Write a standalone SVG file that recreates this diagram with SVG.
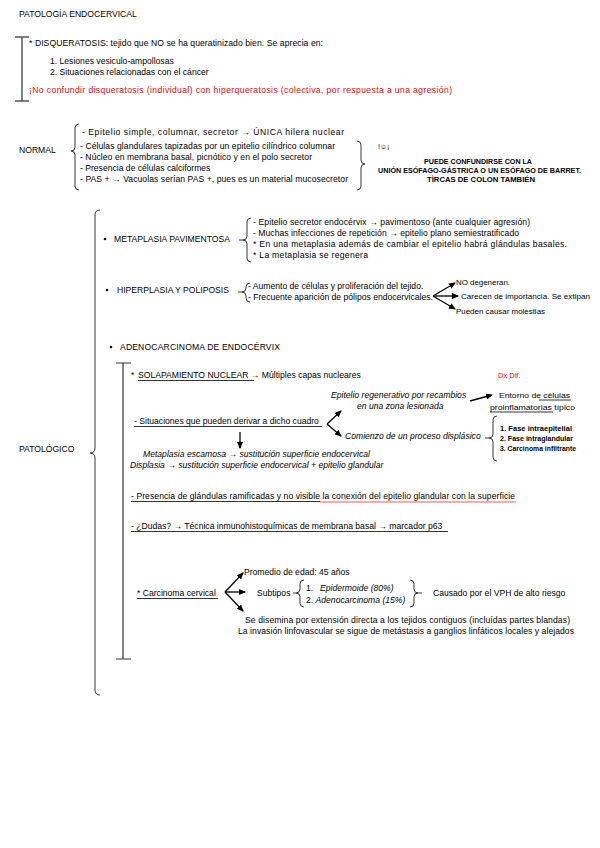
<svg xmlns="http://www.w3.org/2000/svg" width="600" height="848" viewBox="0 0 600 848">
<style>
text{font-family:"Liberation Sans",Arial,sans-serif;font-size:8.6px;fill:#000}
.it{font-style:italic}
.red{fill:#f00}
.sm{font-size:6.4px;font-weight:bold}
.cmp{font-size:8px}
.br{fill:none;stroke:#222;stroke-width:0.9}
.bk{fill:none;stroke:#555;stroke-width:1.5}
.ul{stroke:#000;stroke-width:0.8}
.ar{stroke:#000;stroke-width:1.3;fill:none;marker-end:url(#ah)}
</style>
<defs>
<marker id="ah" markerUnits="userSpaceOnUse" markerWidth="7" markerHeight="6" refX="6" refY="3" orient="auto">
<path d="M0,0 L7,3 L0,6 z" fill="#000"/>
</marker>
</defs>
<rect width="600" height="848" fill="#fff"/>

<g id="title"><text x="19" y="17">PATOLOGÍA ENDOCERVICAL</text></g>

<g id="disqueratosis">
<path class="bk" d="M15,37 H29 M22,37 V101 M15,101 H29"/>
<text x="29" y="46" textLength="294" lengthAdjust="spacing">* DISQUERATOSIS: tejido que NO se ha queratinizado bien. Se aprecia en:</text>
<text x="50" y="64">1. Lesiones vesiculo-ampollosas</text>
<text x="50" y="75">2. Situaciones relacionadas con el cáncer</text>
<text class="red" x="29" y="93" textLength="423" lengthAdjust="spacing">¡No confundir disqueratosis (individual) con hiperqueratosis (colectiva, por respuesta a una agresión)</text>
</g>

<g id="normal">
<text x="19" y="153">NORMAL</text>
<path class="br" d="M79,124 Q75,124 75,128 L75,147 Q75,151 71,151 Q75,151 75,155 L75,186 Q75,190 79,190"/>
<text x="82" y="135" textLength="262" lengthAdjust="spacing">-  Epitelio simple, columnar, secretor → ÚNICA hilera nuclear</text>
<text x="80" y="149" textLength="255" lengthAdjust="spacing">- Células glandulares tapizadas por un epitelio cilíndrico columnar</text>
<text x="80" y="160" textLength="232" lengthAdjust="spacing">- Núcleo en membrana basal, picnótico y en el polo secretor</text>
<text x="80" y="171">- Presencia de células calciformes</text>
<text x="80" y="182" textLength="268" lengthAdjust="spacing">- PAS + → Vacuolas serían PAS +, pues es un material mucosecretor</text>
<path class="br" d="M357,141 Q361,141 361,145 L361,160 Q361,164 365,164 Q361,164 361,168 L361,186 Q361,190 357,190"/>
</g>

<g id="nota-barrett">
<text x="378" y="149" style="font-size:7px">!☺¡</text>
<text class="sm" x="424" y="164" textLength="108" lengthAdjust="spacingAndGlyphs">PUEDE CONFUNDIRSE CON LA</text>
<text class="sm" x="378" y="173" textLength="203" lengthAdjust="spacingAndGlyphs">UNIÓN ESÓFAGO-GÁSTRICA O UN ESÓFAGO DE BARRET.</text>
<text class="sm" x="427" y="182" textLength="108" lengthAdjust="spacingAndGlyphs">TÌRCAS DE COLON TAMBIÉN</text>
</g>

<g id="patologico">
<text x="19" y="452">PATOLÓGICO</text>
<path class="br" d="M100,210 Q95,210 95,215 L95,448 Q95,453 90,453 Q95,453 95,458 L95,690 Q95,695 100,695"/>
</g>

<g id="metaplasia">
<circle cx="105" cy="239" r="1.3" fill="#000"/>
<text x="114" y="242">METAPLASIA PAVIMENTOSA</text>
<path class="br" d="M251,218 Q247,218 247,222 L247,236 Q247,240 243,240 L239,240 M243,240 Q247,240 247,244 L247,258 Q247,262 251,262"/>
<text x="253" y="225" textLength="277" lengthAdjust="spacing">- Epitelio secretor endocérvix → pavimentoso (ante cualquier agresión)</text>
<text x="253" y="236" textLength="266" lengthAdjust="spacing">- Muchas infecciones de repetición → epitelio plano semiestratificado</text>
<text x="253" y="247" textLength="314" lengthAdjust="spacing">* En una metaplasia además de cambiar el epitelio habrá glándulas basales.</text>
<text x="253" y="258" textLength="115" lengthAdjust="spacing">* La metaplasia se regenera</text>
</g>

<g id="hiperplasia">
<circle cx="107" cy="290" r="1.3" fill="#000"/>
<text x="117" y="293">HIPERPLASIA Y POLIPOSIS</text>
<path class="br" d="M250,283 Q246,283 246,287 L246,288 Q246,292 242,292 L238,292 M242,292 Q246,292 246,296 L246,298 Q246,302 250,302"/>
<text x="248" y="289">- Aumento de células y proliferación del tejido.</text>
<text x="248" y="300">- Frecuente aparición de pólipos endocervicales.</text>
<text class="cmp" x="456" y="285" textLength="54" lengthAdjust="spacingAndGlyphs">NO degeneran.</text>
<text class="cmp" x="461" y="299" textLength="129" lengthAdjust="spacingAndGlyphs">Carecen de importancia. Se extipan</text>
<text class="cmp" x="456" y="314" textLength="89" lengthAdjust="spacingAndGlyphs">Pueden causar molestias</text>
</g>

<g id="adenocarcinoma">
<circle cx="111" cy="347" r="1.3" fill="#000"/>
<text x="120" y="350" textLength="160" lengthAdjust="spacing">ADENOCARCINOMA DE ENDOCÉRVIX</text>
<path class="bk" style="stroke:#333;stroke-width:1.2" d="M116,363 H131 M123,363 V659 M116,659 H131"/>
</g>

<g id="solapamiento">
<text x="131" y="378">* <tspan x="138">SOLAPAMIENTO NUCLEAR</tspan> → Múltiples capas nucleares</text>
<line class="ul" x1="138" y1="380.5" x2="254" y2="380.5"/>
<text class="red" x="498" y="378" style="font-size:7.5px">Dx Dif.</text>
</g>

<g id="situaciones">
<text x="134" y="424">- Situaciones que pueden derivar a dicho cuadro</text>
<line class="ul" x1="134" y1="426.5" x2="322" y2="426.5"/>
<text class="it" x="331" y="398">Epitelio regenerativo por recambios</text>
<text class="it" x="357" y="409">en una zona lesionada</text>
<text class="cmp" x="499" y="398" textLength="71" lengthAdjust="spacingAndGlyphs">Entorno de células</text>
<line class="ul" x1="539" y1="400" x2="571" y2="400"/>
<text class="cmp" x="490" y="410" textLength="85" lengthAdjust="spacingAndGlyphs">proinflamatorias típico</text>
<line class="ul" x1="490" y1="412" x2="553" y2="412"/>
<text class="it" x="345" y="439">Comienzo de un proceso displásico</text>
<path class="br" d="M497,416 Q493,416 493,420 L493,434 Q493,438 489,438 L485,438 M489,438 Q493,438 493,442 L493,457 Q493,461 497,461"/>
<text x="500" y="431" textLength="72" lengthAdjust="spacingAndGlyphs" style="font-weight:bold;font-size:7.5px">1. Fase intraepitelial</text>
<text x="500" y="441" textLength="73" lengthAdjust="spacingAndGlyphs" style="font-weight:bold;font-size:7.5px">2. Fase intraglandular</text>
<text x="500" y="451" textLength="76" lengthAdjust="spacingAndGlyphs" style="font-weight:bold;font-size:7.5px">3. Carcinoma infiltrante</text>
<text class="it" x="143" y="457">Metaplasia escamosa → sustitución superficie endocervical</text>
<text class="it" x="130" y="468">Displasia → sustitución superficie endocervical + epitelio glandular</text>
</g>

<g id="glandulas">
<text x="131" y="499" textLength="384" lengthAdjust="spacing">- Presencia de glándulas ramificadas y no visible la conexión del epitelio glandular con la superficie</text>
<line class="ul" x1="131" y1="501.5" x2="320" y2="501.5"/>
<line x1="320" y1="502" x2="516" y2="502" stroke="#f44" stroke-width="0.9"/>
</g>

<g id="dudas">
<text x="131" y="529">- ¿Dudas? → Técnica inmunohistoquímicas de membrana basal → marcador p63</text>
<line class="ul" x1="131" y1="531.5" x2="448" y2="531.5"/>
</g>

<g id="carcinoma">
<text x="137" y="596">* Carcinoma cervical</text>
<line class="ul" x1="137" y1="598.5" x2="218" y2="598.5"/>
<text x="244" y="575">Promedio de edad: 45 años</text>
<text x="257" y="596">Subtipos</text>
<path class="br" d="M304,580 Q300,580 300,584 L300,589 Q300,593 296,593 L293,593 M296,593 Q300,593 300,597 L300,603 Q300,607 304,607"/>
<text x="306" y="591">1.<tspan class="it" x="320">Epidermoide (80%)</tspan></text>
<text x="306" y="603">2. <tspan class="it">Adenocarcinoma (15%)</tspan></text>
<path class="br" d="M410,580 Q414,580 414,584 L414,589 Q414,593 418,593 L422,593 M418,593 Q414,593 414,597 L414,603 Q414,607 410,607"/>
<text x="433" y="596">Causado por el VPH de alto riesgo</text>
<text x="245" y="623" textLength="325" lengthAdjust="spacing">Se disemina por extensión directa a los tejidos contiguos (incluídas partes blandas)</text>
<text x="238" y="634" textLength="336" lengthAdjust="spacing">La invasión linfovascular se sigue de metástasis a ganglios linfáticos locales y alejados</text>
</g>

<g id="connectors">
<line class="ar" x1="433" y1="296" x2="455" y2="283"/>
<line class="ar" x1="433" y1="296" x2="458" y2="296"/>
<line class="ar" x1="433" y1="296" x2="455" y2="309"/>
<line class="ar" x1="470" y1="401" x2="492" y2="395"/>
<line class="ar" x1="327" y1="424" x2="341" y2="411"/>
<line class="ar" x1="327" y1="424" x2="341" y2="436"/>
<line class="ar" x1="240" y1="432" x2="240" y2="448"/>
<line class="ar" x1="225" y1="592" x2="243" y2="573"/>
<line class="ar" x1="225" y1="592" x2="245" y2="592"/>
<line class="ar" x1="225" y1="592" x2="243" y2="611"/>
</g>
</svg>
